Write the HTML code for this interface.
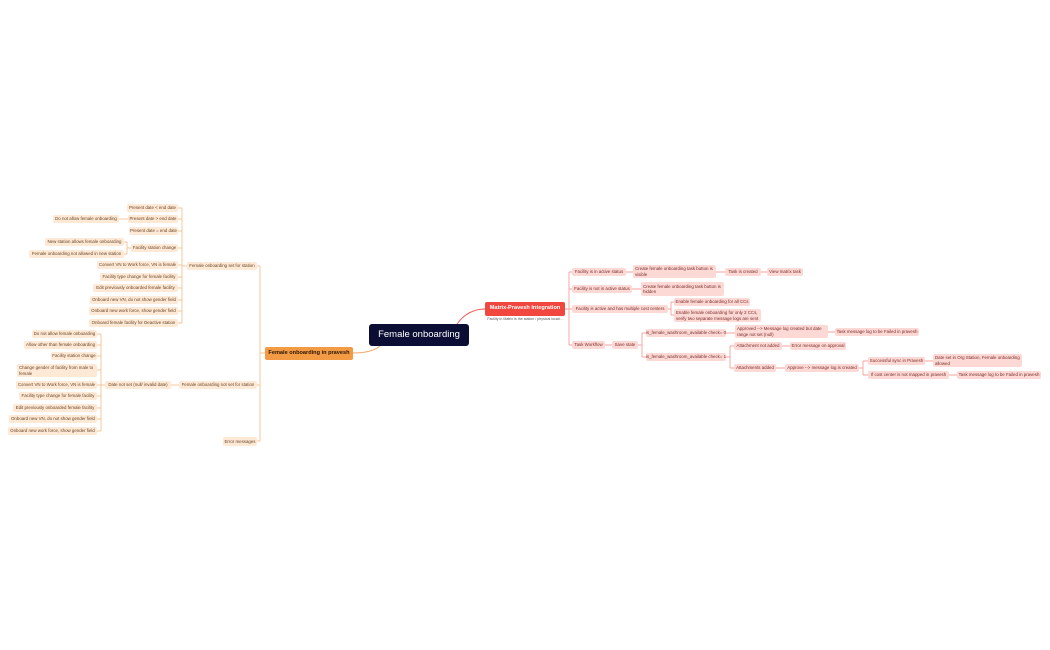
<!DOCTYPE html>
<html><head><meta charset="utf-8">
<style>
html,body{margin:0;padding:0;background:#fff;}
#c{position:relative;width:1050px;height:650px;overflow:hidden;font-family:"Liberation Sans",sans-serif;}
.n{position:absolute;box-sizing:border-box;display:flex;align-items:center;font-size:4.4px;line-height:5.2px;padding:0 2px;border-radius:2px;white-space:nowrap;}
.l{background:#fde9d6;color:#6b4424;justify-content:center;}
.r{background:#fdd9d6;color:#7a2a26;justify-content:center;}
.w{white-space:normal;justify-content:flex-start;}
svg{position:absolute;left:0;top:0;}
</style></head><body><div id="c">
<svg width="1050" height="650">
<g fill="none" stroke-width="0.9">
<path d="M380 346 Q372 353 353 353" stroke="#f3a660"/>
<path d="M457 324 Q468 309 485 309" stroke="#f2574f"/>
<g stroke="#f7c393">
<!-- main left trunk -->
<path d="M265 353 H260 M260 266 V441 M257 266 H260 M257 385 H260 M257 441 H260"/>
<!-- set for station -->
<path d="M187 266 H182 M182 208 V323 M178 208 H182 M178 219 H182 M178 231 H182 M178 248 H182 M178 265 H182 M178 277 H182 M178 288 H182 M178 300 H182 M178 311 H182 M178 323 H182"/>
<path d="M119 219 H128"/>
<path d="M131 248 H127 M127 242 V254 M124 242 H127 M124 254 H127"/>
<!-- not set -->
<path d="M171 385 H179"/>
<path d="M105 385 H101 M101 334 V431 M97 334 H101 M97 345 H101 M97 356 H101 M97 370 H101 M97 385 H101 M97 396 H101 M97 408 H101 M97 419 H101 M97 431 H101"/>
</g>
<g stroke="#f5a29c">
<path d="M565 309 H569 M569 272 V345 M569 272 H572 M569 289 H572 M569 309 H572 M569 345 H572"/>
<path d="M626 272 H633 M716 272 H725 M761 272 H767 M632 289 H641"/>
<path d="M668 309 H671 M671 302 V315 M671 302 H674 M671 315 H674"/>
<path d="M605 345 H612 M638 345 H642 M642 333 V357 M642 333 H646 M642 357 H646"/>
<path d="M726 333 H735 M828 332 H835"/>
<path d="M726 357 H730 M730 346 V368 M730 346 H734 M730 368 H734"/>
<path d="M782 346 H790 M776 368 H785"/>
<path d="M859 368 H863 M863 361 V375 M863 361 H868 M863 375 H868"/>
<path d="M925 361 H933 M949 375 H957"/>
</g>
</g>
</svg>

<div class="n" style="left:369px;top:324px;width:100px;height:22px;background:#0b0d35;color:#fff;font-size:9.5px;border-radius:3px;justify-content:center;">Female onboarding</div>
<div class="n" style="left:265px;top:347px;width:88px;height:13px;background:#f29a44;color:#2a1605;font-size:5.6px;font-weight:bold;justify-content:center;">Female onboarding in pravesh</div>
<div class="n" style="left:485px;top:302px;width:80px;height:14px;background:#f2473f;color:#fff;font-size:5.6px;font-weight:bold;justify-content:center;">Matrix-Pravesh Integration</div>
<div class="n" style="left:485px;top:317px;width:80px;height:6px;color:#555;font-size:3.6px;justify-content:center;">Facility in Matrix is the station / physical locati...</div>

<!-- left level 2 -->
<div class="n l" style="left:187px;top:262px;width:70px;height:8px;">Female onboarding set for station</div>
<div class="n l" style="left:179px;top:381px;width:78px;height:8px;">Female onboarding not set for station</div>
<div class="n l" style="left:223px;top:437px;width:34px;height:9px;">Error messages</div>

<div class="n l" style="left:127px;top:204px;width:51px;height:8px;">Present date &lt; end date</div>
<div class="n l" style="left:128px;top:215px;width:50px;height:8px;">Present date &gt; end date</div>
<div class="n l" style="left:129px;top:227px;width:49px;height:8px;">Present date = end date</div>
<div class="n l" style="left:131px;top:244px;width:47px;height:8px;">Facility station change</div>
<div class="n l" style="left:97px;top:261px;width:81px;height:8px;">Convert VN to Work force, VN is female</div>
<div class="n l" style="left:100px;top:273px;width:78px;height:8px;">Facility type change for female facility</div>
<div class="n l" style="left:93px;top:284px;width:85px;height:8px;">Edit previously onboarded  female facility</div>
<div class="n l" style="left:90px;top:296px;width:88px;height:8px;">Onboard new VN, do not show gender field</div>
<div class="n l" style="left:89px;top:307px;width:89px;height:8px;">Onboard new work force, show gender field</div>
<div class="n l" style="left:89px;top:319px;width:89px;height:8px;">Onboard female facility for Deactive station</div>
<div class="n l" style="left:53px;top:215px;width:66px;height:8px;">Do not allow female onboarding</div>
<div class="n l" style="left:45px;top:238px;width:79px;height:8px;">New station allows female onboarding</div>
<div class="n l" style="left:29px;top:250px;width:95px;height:8px;">Female onboarding not allowed in new station</div>

<div class="n l" style="left:105px;top:381px;width:66px;height:8px;">Date not set (null/ invalid date)</div>
<div class="n l" style="left:32px;top:330px;width:65px;height:8px;">Do not allow female onboarding</div>
<div class="n l" style="left:24px;top:341px;width:73px;height:8px;">Allow other than female onboarding</div>
<div class="n l" style="left:51px;top:352px;width:46px;height:8px;">Facility station change</div>
<div class="n l w" style="left:17px;top:364px;width:80px;height:13px;">Change gender of facility from male to female</div>
<div class="n l" style="left:16px;top:381px;width:81px;height:8px;">Convert VN to Work force, VN is female</div>
<div class="n l" style="left:19px;top:392px;width:78px;height:8px;">Facility type change for female facility</div>
<div class="n l" style="left:13px;top:404px;width:84px;height:8px;">Edit previously onboarded  female facility</div>
<div class="n l" style="left:9px;top:415px;width:88px;height:8px;">Onboard new VN, do not show gender field</div>
<div class="n l" style="left:8px;top:427px;width:89px;height:8px;">Onboard new work force, show gender field</div>

<!-- right -->
<div class="n r" style="left:572px;top:268px;width:54px;height:8px;">Facility is in active status</div>
<div class="n r" style="left:572px;top:285px;width:60px;height:8px;">Facility is not in active status</div>
<div class="n r" style="left:572px;top:305px;width:96px;height:8px;">Facility is active and has multiple cost centers</div>
<div class="n r" style="left:572px;top:341px;width:33px;height:8px;">Task Workflow</div>
<div class="n r w" style="left:633px;top:265px;width:83px;height:13px;">Create female onboarding task button is visible</div>
<div class="n r" style="left:725px;top:268px;width:36px;height:8px;">Task is created</div>
<div class="n r" style="left:767px;top:268px;width:36px;height:8px;">View matrix task</div>
<div class="n r w" style="left:641px;top:282px;width:83px;height:14px;">Create female onboarding task button is hidden</div>
<div class="n r" style="left:674px;top:298px;width:76px;height:8px;">Enable female onboarding for all CCs</div>
<div class="n r w" style="left:674px;top:309px;width:87px;height:13px;">Enable female onboarding for only 2 CCs, verify two separate message logs are sent</div>
<div class="n r" style="left:612px;top:341px;width:26px;height:8px;">Save state</div>
<div class="n r" style="left:646px;top:329px;width:80px;height:8px;">is_female_washroom_available check= 0</div>
<div class="n r" style="left:646px;top:353px;width:80px;height:8px;">is_female_washroom_available check= 1</div>
<div class="n r w" style="left:735px;top:325px;width:93px;height:13px;">Approved --&gt; Message log created but date range not set (null)</div>
<div class="n r" style="left:835px;top:328px;width:84px;height:8px;">Task message log to be Failed in pravesh</div>
<div class="n r" style="left:734px;top:342px;width:48px;height:8px;">Attachment not added</div>
<div class="n r" style="left:790px;top:342px;width:56px;height:8px;">Error message on approval</div>
<div class="n r" style="left:734px;top:364px;width:42px;height:8px;">Attachments added</div>
<div class="n r" style="left:785px;top:364px;width:74px;height:8px;">Approve --&gt; message log is created</div>
<div class="n r" style="left:868px;top:357px;width:57px;height:8px;">Successful sync in Pravesh</div>
<div class="n r w" style="left:933px;top:354px;width:89px;height:13px;">Date set in Org Station, Female onboarding allowed</div>
<div class="n r" style="left:868px;top:371px;width:81px;height:8px;">If cost center is not mapped in pravesh</div>
<div class="n r" style="left:957px;top:371px;width:84px;height:8px;">Task message log to be Failed in pravesh</div>
</div></body></html>
